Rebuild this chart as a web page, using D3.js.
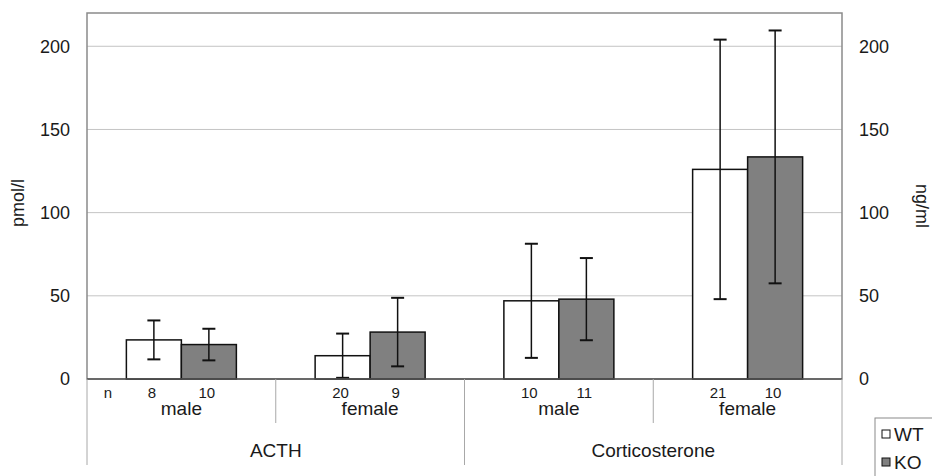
<!DOCTYPE html>
<html lang="en">
<head>
  <meta charset="utf-8">
  <title>ACTH and Corticosterone, WT vs KO</title>
  <script src="https://d3js.org/d3.v7.js"></script>
  <style>
    body { margin: 0; background: #fff; }
    text { font-family: "Liberation Sans", Arial, sans-serif; fill: #1a1a1a; }
  </style>
</head>
<body>
  <div id="my_dataviz"></div>

  <script>
    // Data
    var hormones = ["ACTH", "ACTH", "Corticosterone", "Corticosterone"];
    var sexes = ["male", "female", "male", "female"];
    var series = ["WT", "KO"];
    var wtMean = [23.5, 14.0, 47.0, 126.0];
    var wtErr  = [11.7, 13.3, 34.3, 78.0];
    var koMean = [20.7, 28.2, 48.0, 133.5];
    var koErr  = [9.5, 20.6, 24.7, 76.0];
    var wtN = [8, 20, 10, 21];
    var koN = [10, 9, 11, 10];
    var yTicks = [0, 50, 100, 150, 200];

    var colors = {WT: "#ffffff", KO: "#808080"};

    var margin = {top: 13, right: 90, bottom: 97, left: 87},
        width = 932 - margin.left - margin.right,
        height = 476 - margin.top - margin.bottom;

    var svg = d3.select("#my_dataviz")
      .append("svg")
      .attr("width", 932)
      .attr("height", 476)
      .append("g")
      .attr("transform", "translate(" + margin.left + "," + margin.top + ")");

    var cats = d3.range(hormones.length);

    // build rows from the arrays
    var bars = [];
    cats.forEach(function(i) {
      bars.push({cat: i, s: "WT", mean: wtMean[i], err: wtErr[i], n: wtN[i]});
      bars.push({cat: i, s: "KO", mean: koMean[i], err: koErr[i], n: koN[i]});
    });

    var x0 = d3.scaleBand().domain(cats).range([0, width]);
    var x1 = d3.scaleBand().domain(series).range([0, x0.bandwidth()])
      .paddingInner(0).paddingOuter(0.716);

    var y = d3.scaleLinear().domain([0, 220]).range([height, 0]);
    var y2 = d3.scaleLinear().domain([0, 220]).range([height, 0]);

    // gridlines
    svg.selectAll(".grid")
      .data(yTicks.filter(function(d) { return d > 0; }))
      .enter().append("line")
      .attr("x1", 0).attr("x2", width)
      .attr("y1", function(d) { return y(d); })
      .attr("y2", function(d) { return y(d); })
      .attr("stroke", "#c4c4c4").attr("stroke-width", 1);

    // plot frame
    svg.append("rect")
      .attr("x", 0).attr("y", 0)
      .attr("width", width).attr("height", height)
      .attr("fill", "none").attr("stroke", "#8a8a8a").attr("stroke-width", 1.5);

    // left axis labels
    var yl = svg.append("g").call(d3.axisLeft(y).tickValues(yTicks).tickSize(0).tickPadding(17));
    yl.select(".domain").remove();
    yl.selectAll("text").style("font-size", "18px").attr("fill", "#1a1a1a");

    // right axis labels
    var yr = svg.append("g").attr("transform", "translate(" + width + ",0)")
      .call(d3.axisRight(y2).tickValues(yTicks).tickSize(0).tickPadding(17));
    yr.select(".domain").remove();
    yr.selectAll("text").style("font-size", "18px").attr("fill", "#1a1a1a");

    // bars
    svg.selectAll(".bar")
      .data(bars)
      .enter().append("rect")
      .attr("x", function(d) { return x0(d.cat) + x1(d.s); })
      .attr("y", function(d) { return y(d.mean); })
      .attr("width", x1.bandwidth())
      .attr("height", function(d) { return height - y(d.mean); })
      .attr("fill", function(d) { return colors[d.s]; })
      .attr("stroke", "#111").attr("stroke-width", 1.5);

    // error bars
    var eb = svg.selectAll(".err")
      .data(bars)
      .enter().append("g")
      .attr("transform", function(d) { return "translate(" + (x0(d.cat) + x1(d.s) + x1.bandwidth() / 2) + ",0)"; });
    eb.append("line")
      .attr("y1", function(d) { return y(d.mean + d.err); })
      .attr("y2", function(d) { return y(Math.max(0, d.mean - d.err)); })
      .attr("stroke", "#111").attr("stroke-width", 1.5);
    eb.append("line").attr("x1", -6.5).attr("x2", 6.5)
      .attr("y1", function(d) { return y(d.mean + d.err); })
      .attr("y2", function(d) { return y(d.mean + d.err); })
      .attr("stroke", "#111").attr("stroke-width", 2);
    eb.append("line").attr("x1", -6.5).attr("x2", 6.5)
      .attr("y1", function(d) { return y(Math.max(0, d.mean - d.err)); })
      .attr("y2", function(d) { return y(Math.max(0, d.mean - d.err)); })
      .attr("stroke", "#111").attr("stroke-width", 2);

    // baseline
    svg.append("line")
      .attr("x1", 0).attr("x2", width)
      .attr("y1", y(0)).attr("y2", y(0))
      .attr("stroke", "#555").attr("stroke-width", 1.5);

    // category dividers below the axis
    svg.selectAll(".div")
      .data(d3.range(cats.length + 1))
      .enter().append("line")
      .attr("x1", function(i) { return i * x0.step(); })
      .attr("x2", function(i) { return i * x0.step(); })
      .attr("y1", height)
      .attr("y2", function(i) { return height + (i % 2 === 0 ? 86 : 44); })
      .attr("stroke", "#a8a8a8").attr("stroke-width", 1);

    // n counts
    svg.append("text")
      .attr("x", x0(0) + 21).attr("y", height + 19)
      .attr("text-anchor", "middle").style("font-size", "15px").text("n");
    svg.selectAll(".n")
      .data(bars)
      .enter().append("text")
      .attr("x", function(d) { return x0(d.cat) + x1(d.s) + x1.bandwidth() / 2 - 2; })
      .attr("y", height + 19)
      .attr("text-anchor", "middle").style("font-size", "15px")
      .text(function(d) { return d.n; });

    // sex labels
    svg.selectAll(".sex")
      .data(cats)
      .enter().append("text")
      .attr("x", function(i) { return x0(i) + x0.bandwidth() / 2; })
      .attr("y", height + 36)
      .attr("text-anchor", "middle").style("font-size", "19px")
      .text(function(i) { return sexes[i]; });

    // hormone labels
    var hGroups = Array.from(new Set(hormones));
    svg.selectAll(".hormone")
      .data(hGroups)
      .enter().append("text")
      .attr("x", function(h) {
        var idx = cats.filter(function(i) { return hormones[i] === h; });
        return (x0(idx[0]) + x0(idx[idx.length - 1]) + x0.bandwidth()) / 2;
      })
      .attr("y", height + 78)
      .attr("text-anchor", "middle").style("font-size", "19px")
      .text(function(h) { return h; });

    // axis titles
    svg.append("text")
      .attr("transform", "translate(" + (-63) + "," + 190 + ") rotate(-90)")
      .attr("text-anchor", "middle").style("font-size", "18px").text("pmol/l");
    svg.append("text")
      .attr("transform", "translate(" + (width + 74) + "," + 193 + ") rotate(90)")
      .attr("text-anchor", "middle").style("font-size", "18px").text("ng/ml");

    // legend
    var lg = svg.append("g").attr("transform", "translate(" + (width + 33) + "," + (height + 39) + ")");
    lg.append("rect").attr("x", 0).attr("y", 0).attr("width", 80).attr("height", 80)
      .attr("fill", "#fff").attr("stroke", "#8a8a8a").attr("stroke-width", 1);
    lg.selectAll(".sw")
      .data(series)
      .enter().append("rect")
      .attr("x", 7).attr("y", function(d, i) { return 12 + i * 28; })
      .attr("width", 8).attr("height", 8)
      .attr("fill", function(d) { return colors[d]; })
      .attr("stroke", "#111").attr("stroke-width", 1);
    lg.selectAll(".lt")
      .data(series)
      .enter().append("text")
      .attr("x", 19).attr("y", function(d, i) { return 23 + i * 28; })
      .style("font-size", "19px")
      .text(function(d) { return d; });
  </script>
</body>
</html>
